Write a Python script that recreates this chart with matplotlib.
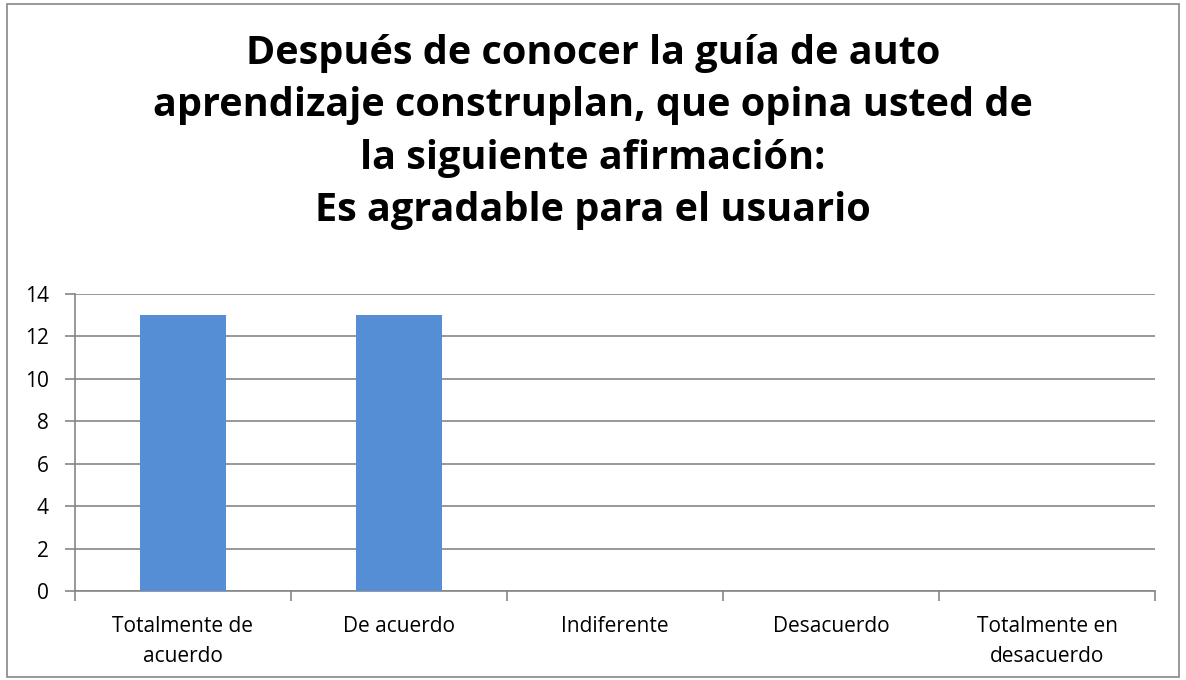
import matplotlib.pyplot as plt
from matplotlib.patches import Rectangle

categorias = ["Totalmente de\nacuerdo", "De acuerdo", "Indiferente",
              "Desacuerdo", "Totalmente en\ndesacuerdo"]
respuestas = [13, 13, 0, 0, 0]
y_ticks = [0, 2, 4, 6, 8, 10, 12, 14]

titulo = ("Después de conocer la guía de auto\n"
          "aprendizaje construplan, que opina usted de\n"
          "la siguiente afirmación:\n"
          "Es agradable para el usuario")

plt.rcParams['font.family'] = ['Open Sans', 'DejaVu Sans']

fig = plt.figure(figsize=(11.86, 6.8), dpi=100)
ax = fig.add_axes([0.0632, 0.1309, 0.9107, 0.4367])

gris = "#868686"
x = range(len(categorias))
ax.bar(x, respuestas, width=0.4, color="#558ED5", zorder=3)

ax.set_xlim(-0.5, len(categorias) - 0.5)
ax.set_ylim(0, 14)
ax.set_yticks(y_ticks)
ax.yaxis.grid(True, color=gris, linewidth=1.2, zorder=0)

# category labels in the middle, tick marks on the category boundaries
ax.set_xticks(list(x))
ax.set_xticklabels(categorias, fontsize=15, linespacing=1.55)
ax.tick_params(axis="x", which="major", length=0, pad=18)
ax.set_xticks([i - 0.5 for i in range(len(categorias) + 1)], minor=True)
ax.tick_params(axis="x", which="minor", length=7, color=gris, width=1.2, direction="out")
ax.tick_params(axis="y", length=7, color=gris, width=1.2, labelsize=15, pad=12)

for side in ["top", "right"]:
    ax.spines[side].set_visible(False)
for side in ["left", "bottom"]:
    ax.spines[side].set_color(gris)
    ax.spines[side].set_linewidth(1.2)

fig.text(0.5, 0.806, titulo, ha="center", va="center", fontsize=28.5,
         fontweight="bold", linespacing=1.45)

# outer chart border
fig.add_artist(Rectangle((0.006, 0.004), 0.988, 0.99, transform=fig.transFigure,
                         fill=False, edgecolor=gris, linewidth=1.2))

fig.savefig("out.png", dpi=100)
